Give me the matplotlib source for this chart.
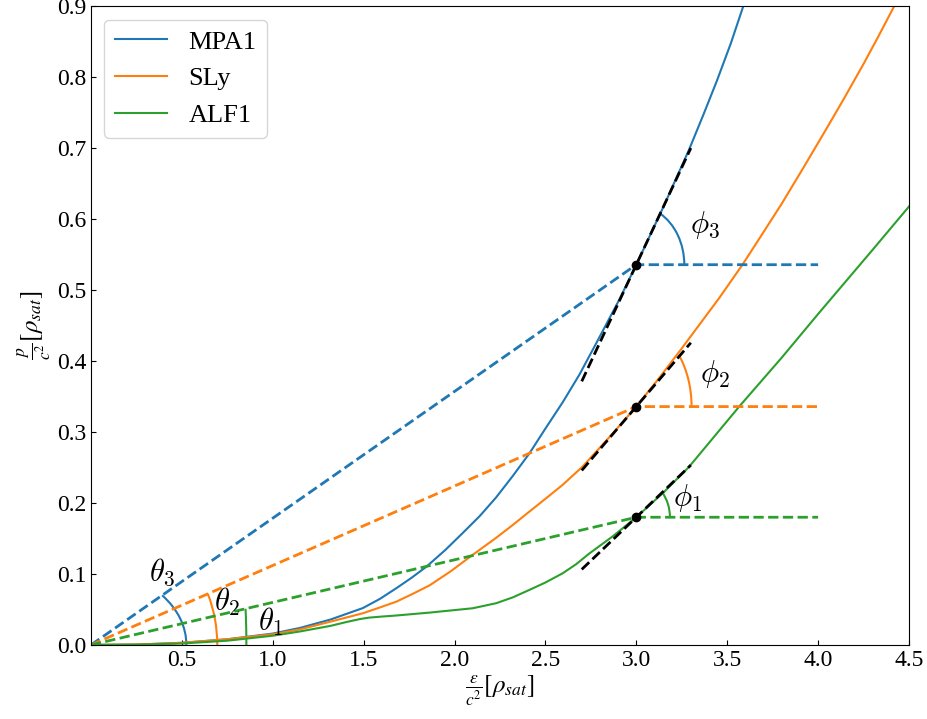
import numpy as np
import matplotlib.pyplot as plt
from matplotlib.patches import Arc

plt.rcParams['font.family'] = 'serif'
plt.rcParams['font.serif'] = ['Liberation Serif', 'DejaVu Serif']
plt.rcParams['mathtext.fontset'] = 'stix'

# equations of state, energy density vs pressure (units of rho_sat)
eps_mpa1 = [0.0, 0.25, 0.5, 0.75, 1.0, 1.15, 1.32, 1.496, 1.59, 1.68, 1.76, 1.844,
            1.95, 2.046, 2.14, 2.229, 2.32, 2.412, 2.50, 2.595, 2.687, 2.779, 2.907,
            3.0, 3.15, 3.29, 3.37, 3.443, 3.52, 3.588]
p_mpa1 = [0.0, 0.0005, 0.003, 0.008, 0.016, 0.024, 0.036, 0.052, 0.065, 0.080,
          0.094, 0.110, 0.134, 0.158, 0.182, 0.208, 0.238, 0.270, 0.305, 0.342,
          0.381, 0.425, 0.487, 0.536, 0.618, 0.698, 0.748, 0.795, 0.848, 0.90]

eps_sly = [0.0, 0.25, 0.5, 0.75, 1.0, 1.15, 1.32, 1.496, 1.58, 1.68, 1.77, 1.863,
           1.98, 2.10, 2.229, 2.32, 2.412, 2.50, 2.595, 2.705, 2.87, 3.0, 3.125,
           3.25, 3.456, 3.584, 3.7, 3.8, 3.92, 4.033, 4.14, 4.25, 4.33, 4.418]
p_sly = [0.0, 0.0005, 0.003, 0.008, 0.015, 0.022, 0.033, 0.0447, 0.052, 0.061,
         0.072, 0.084, 0.104, 0.127, 0.151, 0.169, 0.188, 0.206, 0.2257, 0.2515,
         0.298, 0.336, 0.376, 0.418, 0.489, 0.536, 0.582, 0.622, 0.673, 0.722,
         0.769, 0.819, 0.857, 0.90]

eps_alf1 = [0.0, 0.25, 0.5, 0.75, 1.0, 1.15, 1.32, 1.40, 1.48, 1.53, 1.60, 1.68,
            1.863, 2.10, 2.229, 2.32, 2.412, 2.50, 2.595, 2.67, 2.742, 2.87, 3.0,
            3.15, 3.29, 3.566, 3.8, 4.005, 4.30, 4.5]
p_alf1 = [0.0, 0.0004, 0.002, 0.006, 0.013, 0.019, 0.027, 0.032, 0.0365, 0.0385,
          0.040, 0.0415, 0.0456, 0.0517, 0.0588, 0.067, 0.0776, 0.088, 0.101, 0.114,
          0.129, 0.153, 0.18, 0.215, 0.251, 0.336, 0.405, 0.468, 0.557, 0.618]

names = ['MPA1', 'SLy', 'ALF1']
colors = ['C0', 'C1', 'C2']

# reference point at eps = 3 and the local slope there
eps0 = 3.0
p0 = [0.536, 0.336, 0.18]
slope0 = [0.548, 0.30, 0.245]
eps_end = 4.0
half_tan = 0.3

# arc sizes (width, height) in data units
theta_arcs = [(1.05, 0.21), (1.39, 0.38), (1.71, 1.0)]
phi_arcs = [(0.528, 0.166), (0.608, 0.228), (0.37, 0.11)]
theta_pos = [(0.39, 0.103), (0.75, 0.061), (0.99, 0.032)]
phi_pos = [(3.38, 0.592), (3.43, 0.382), (3.28, 0.207)]


def plot_eos():
    fig = plt.figure(figsize=(9.28, 7.19), dpi=100)
    ax = fig.add_axes([0.098, 0.103, 0.8815, 0.888])

    curves = [(eps_mpa1, p_mpa1), (eps_sly, p_sly), (eps_alf1, p_alf1)]
    for (e, p), name, c in zip(curves, names, colors):
        ax.plot(e, p, color=c, lw=1.5, label=name)

    for i in range(3):
        c = colors[i]
        ax.plot([0, eps0, eps_end], [0, p0[i], p0[i]], '--', color=c, lw=2)
        ax.plot([eps0 - half_tan, eps0 + half_tan],
                [p0[i] - slope0[i] * half_tan, p0[i] + slope0[i] * half_tan],
                '--', color='k', lw=2, zorder=3)
        ax.plot(eps0, p0[i], 'o', color='k', ms=6, zorder=4)

        th = np.degrees(np.arctan(p0[i] / eps0))
        w, h = theta_arcs[i]
        ax.add_patch(Arc((0, 0), w, h, theta1=0, theta2=th, color=c, lw=1.5))
        ax.text(theta_pos[i][0], theta_pos[i][1], r'$\theta_%d$' % (3 - i),
                fontsize=22, math_fontfamily='cm', ha='center', va='center')

        ph = np.degrees(np.arctan(slope0[i]))
        w, h = phi_arcs[i]
        ax.add_patch(Arc((eps0, p0[i]), w, h, theta1=0, theta2=ph, color=c, lw=1.5))
        ax.text(phi_pos[i][0], phi_pos[i][1], r'$\phi_%d$' % (3 - i),
                fontsize=22, math_fontfamily='cm', ha='center', va='center')

    ax.set_xlim(0, 4.5)
    ax.set_ylim(0, 0.9)
    ax.set_xticks(np.arange(0.5, 4.51, 0.5))
    ax.set_yticks(np.arange(0, 0.91, 0.1))
    ax.tick_params(labelsize=17, direction='in')
    ax.set_xlabel(r'$\frac{\epsilon}{c^2}[\rho_{sat}]$', fontsize=18, labelpad=2)
    ax.set_ylabel(r'$\frac{p}{c^2}[\rho_{sat}]$', fontsize=18, labelpad=2)
    ax.legend(loc='upper left', fontsize=19)
    fig.savefig('out.png', dpi=100)


def main():
    plot_eos()


if __name__ == "__main__":
    main()
